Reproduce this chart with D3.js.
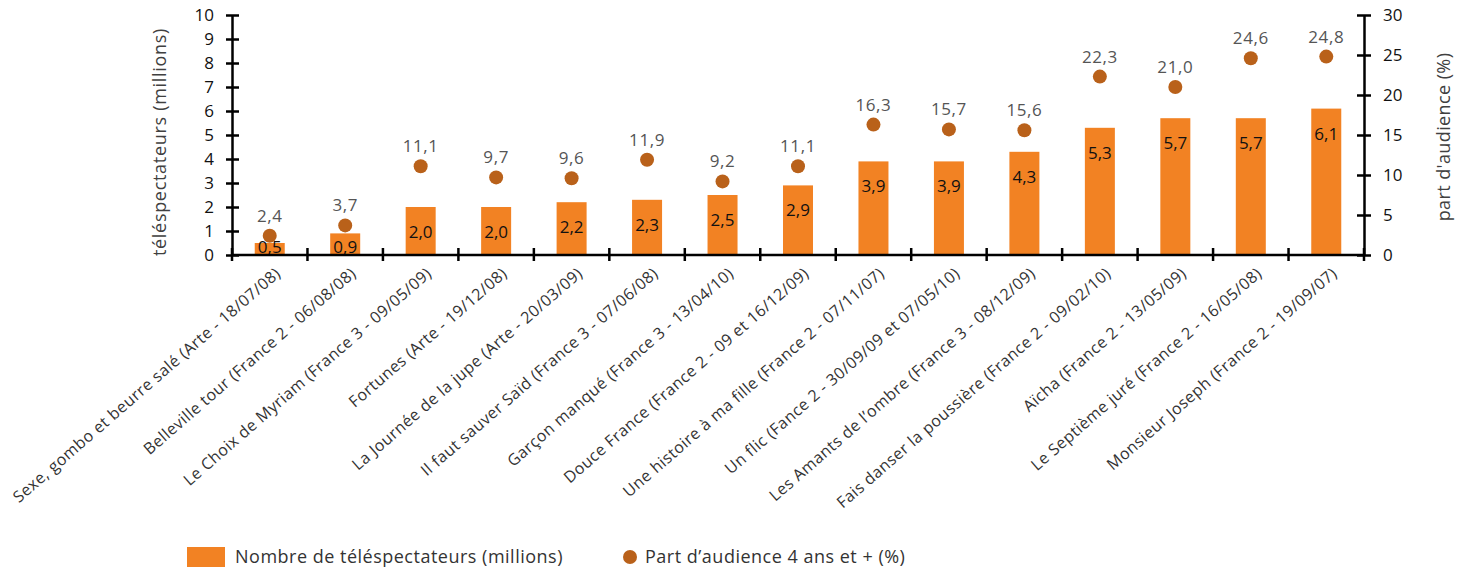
<!DOCTYPE html>
<html>
<head>
<meta charset="utf-8">
<script src="https://cdn.jsdelivr.net/npm/d3@7"></script>
<style>
  html, body { margin: 0; padding: 0; background: #fff; }
  svg { display: block; font-family: "Open Sans", Roboto, sans-serif; }
</style>
</head>
<body>
<div id="chart"></div>
<script>
(function () {

  var FILMS = [
    "Sexe, gombo et beurre salé (Arte - 18/07/08)",
    "Belleville tour (France 2 - 06/08/08)",
    "Le Choix de Myriam (France 3 - 09/05/09)",
    "Fortunes (Arte - 19/12/08)",
    "La Journée de la jupe (Arte - 20/03/09)",
    "Il faut sauver Saïd (France 3 - 07/06/08)",
    "Garçon manqué (France 3 - 13/04/10)",
    "Douce France (France 2 - 09 et 16/12/09)",
    "Une histoire à ma fille (France 2 - 07/11/07)",
    "Un flic (Fance 2 - 30/09/09 et 07/05/10)",
    "Les Amants de l’ombre (France 3 - 08/12/09)",
    "Fais danser la poussière (France 2 - 09/02/10)",
    "Aïcha (France 2 - 13/05/09)",
    "Le Septième juré (France 2 - 16/05/08)",
    "Monsieur Joseph (France 2 - 19/09/07)"
  ];

  // téléspectateurs (millions)
  var VIEWERS = [0.5, 0.9, 2.0, 2.0, 2.2, 2.3, 2.5, 2.9, 3.9, 3.9, 4.3, 5.3, 5.7, 5.7, 6.1];

  // part d'audience 4 ans et + (%)
  var SHARE = [2.4, 3.7, 11.1, 9.7, 9.6, 11.9, 9.2, 11.1, 16.3, 15.7, 15.6, 22.3, 21.0, 24.6, 24.8];

  var LEFT_TICKS  = [0, 1, 2, 3, 4, 5, 6, 7, 8, 9, 10];
  var RIGHT_TICKS = [0, 5, 10, 15, 20, 25, 30];

  var BAR_COLOR = "#f28223";
  var DOT_COLOR = "#b9611a";

  var W = 1469, H = 573;
  var M = { left: 232, right: 105, top: 15, bottom: 318 };
  var x0 = M.left, x1 = W - M.right, yTop = M.top, yBot = H - M.bottom;

  var fr = function (v) { return v.toFixed(1).replace(".", ","); };

  var svg = d3.select("#chart").append("svg")
    .attr("width", W)
    .attr("height", H);

  // ── Scales ────────────────────────────────────────────────────────────
  var x = d3.scaleBand().domain(FILMS).range([x0, x1]).paddingInner(0).paddingOuter(0);
  var yL = d3.scaleLinear().domain([0, 10]).range([yBot, yTop]);
  var yR = d3.scaleLinear().domain([0, 30]).range([yBot, yTop]);
  var barW = 30;

  // ── Bars ──────────────────────────────────────────────────────────────
  svg.append("g").selectAll("rect")
    .data(VIEWERS)
    .join("rect")
    .attr("x", function (d, i) { return x(FILMS[i]) + x.bandwidth() / 2 - barW / 2; })
    .attr("y", function (d) { return yL(d); })
    .attr("width", barW)
    .attr("height", function (d) { return yBot - yL(d); })
    .attr("fill", BAR_COLOR);

  svg.append("g").selectAll("text")
    .data(VIEWERS)
    .join("text")
    .attr("x", function (d, i) { return x(FILMS[i]) + x.bandwidth() / 2; })
    .attr("y", function (d) { return Math.min(yL(d) + 31, yBot - 2); })
    .attr("text-anchor", "middle")
    .attr("font-size", "17px")
    .attr("fill", "#111")
    .text(fr);

  // ── Dots ──────────────────────────────────────────────────────────────
  svg.append("g").selectAll("circle")
    .data(SHARE)
    .join("circle")
    .attr("cx", function (d, i) { return x(FILMS[i]) + x.bandwidth() / 2; })
    .attr("cy", function (d) { return yR(d); })
    .attr("r", 7)
    .attr("fill", DOT_COLOR);

  svg.append("g").selectAll("text")
    .data(SHARE)
    .join("text")
    .attr("x", function (d, i) { return x(FILMS[i]) + x.bandwidth() / 2; })
    .attr("y", function (d) { return yR(d) - 14; })
    .attr("text-anchor", "middle")
    .attr("font-size", "17px")
    .attr("letter-spacing", "0.6px")
    .attr("fill", "#555")
    .text(fr);

  // ── Axes ──────────────────────────────────────────────────────────────
  function styleAxis(g) {
    g.attr("font-family", null);
    g.select(".domain").attr("stroke", "#000").attr("stroke-width", 2.5);
    g.selectAll(".tick line").attr("stroke", "#000").attr("stroke-width", 2.5);
    g.selectAll(".tick text").attr("font-size", "17px").attr("fill", "#111");
  }

  var axL = svg.append("g")
    .attr("transform", "translate(" + x0 + ",0)")
    .call(d3.axisLeft(yL).tickValues(LEFT_TICKS).tickSize(6).tickSizeOuter(0).tickPadding(12)
      .tickFormat(function (d) { return d; }))
    .call(styleAxis);
  axL.selectAll(".tick line").attr("x2", 7).attr("x1", -6);

  var axR = svg.append("g")
    .attr("transform", "translate(" + x1 + ",0)")
    .call(d3.axisRight(yR).tickValues(RIGHT_TICKS).tickSize(6).tickSizeOuter(0).tickPadding(13)
      .tickFormat(function (d) { return d; }))
    .call(styleAxis);
  axR.selectAll(".tick line").attr("x1", -7).attr("x2", 7);

  // x axis: ticks at category boundaries
  var xb = svg.append("g").attr("transform", "translate(0," + yBot + ")");
  xb.append("line")
    .attr("x1", x0).attr("x2", x1)
    .attr("stroke", "#000").attr("stroke-width", 2.5);
  xb.selectAll("line.tk")
    .data(FILMS.concat([null]))
    .join("line")
    .attr("class", "tk")
    .attr("x1", function (d, i) { return x0 + i * x.bandwidth(); })
    .attr("x2", function (d, i) { return x0 + i * x.bandwidth(); })
    .attr("y1", -7).attr("y2", 6)
    .attr("stroke", "#000").attr("stroke-width", 2.5);

  xb.selectAll("text")
    .data(FILMS)
    .join("text")
    .attr("transform", function (d) {
      return "translate(" + (x(d) + x.bandwidth() / 2 + 12) + ",20) rotate(-41)";
    })
    .attr("text-anchor", "end")
    .attr("font-size", "16px")
    .attr("letter-spacing", "0.45px")
    .attr("fill", "#333")
    .text(function (d) { return d; });

  // ── Axis titles ───────────────────────────────────────────────────────
  svg.append("text")
    .attr("transform", "translate(166,142) rotate(-90)")
    .attr("text-anchor", "middle")
    .attr("font-size", "18px")
    .attr("letter-spacing", "0.7px")
    .attr("fill", "#404040")
    .text("téléspectateurs (millions)");

  svg.append("text")
    .attr("transform", "translate(1450,137) rotate(-90)")
    .attr("text-anchor", "middle")
    .attr("font-size", "18px")
    .attr("letter-spacing", "0.4px")
    .attr("fill", "#404040")
    .text("part d'audience (%)");

  // ── Legend ────────────────────────────────────────────────────────────
  var lgd = svg.append("g").attr("transform", "translate(0,557)");
  lgd.append("rect")
    .attr("x", 187).attr("y", -10).attr("width", 38).attr("height", 20)
    .attr("fill", BAR_COLOR);
  lgd.append("text")
    .attr("x", 235).attr("y", 6)
    .attr("font-size", "18px")
    .attr("letter-spacing", "0.5px")
    .attr("fill", "#333")
    .text("Nombre de téléspectateurs (millions)");
  lgd.append("circle")
    .attr("cx", 630).attr("cy", 0).attr("r", 7)
    .attr("fill", DOT_COLOR);
  lgd.append("text")
    .attr("x", 645).attr("y", 6)
    .attr("font-size", "18px")
    .attr("letter-spacing", "0.5px")
    .attr("fill", "#333")
    .text("Part d’audience 4 ans et + (%)");

})();
</script>
</body>
</html>
